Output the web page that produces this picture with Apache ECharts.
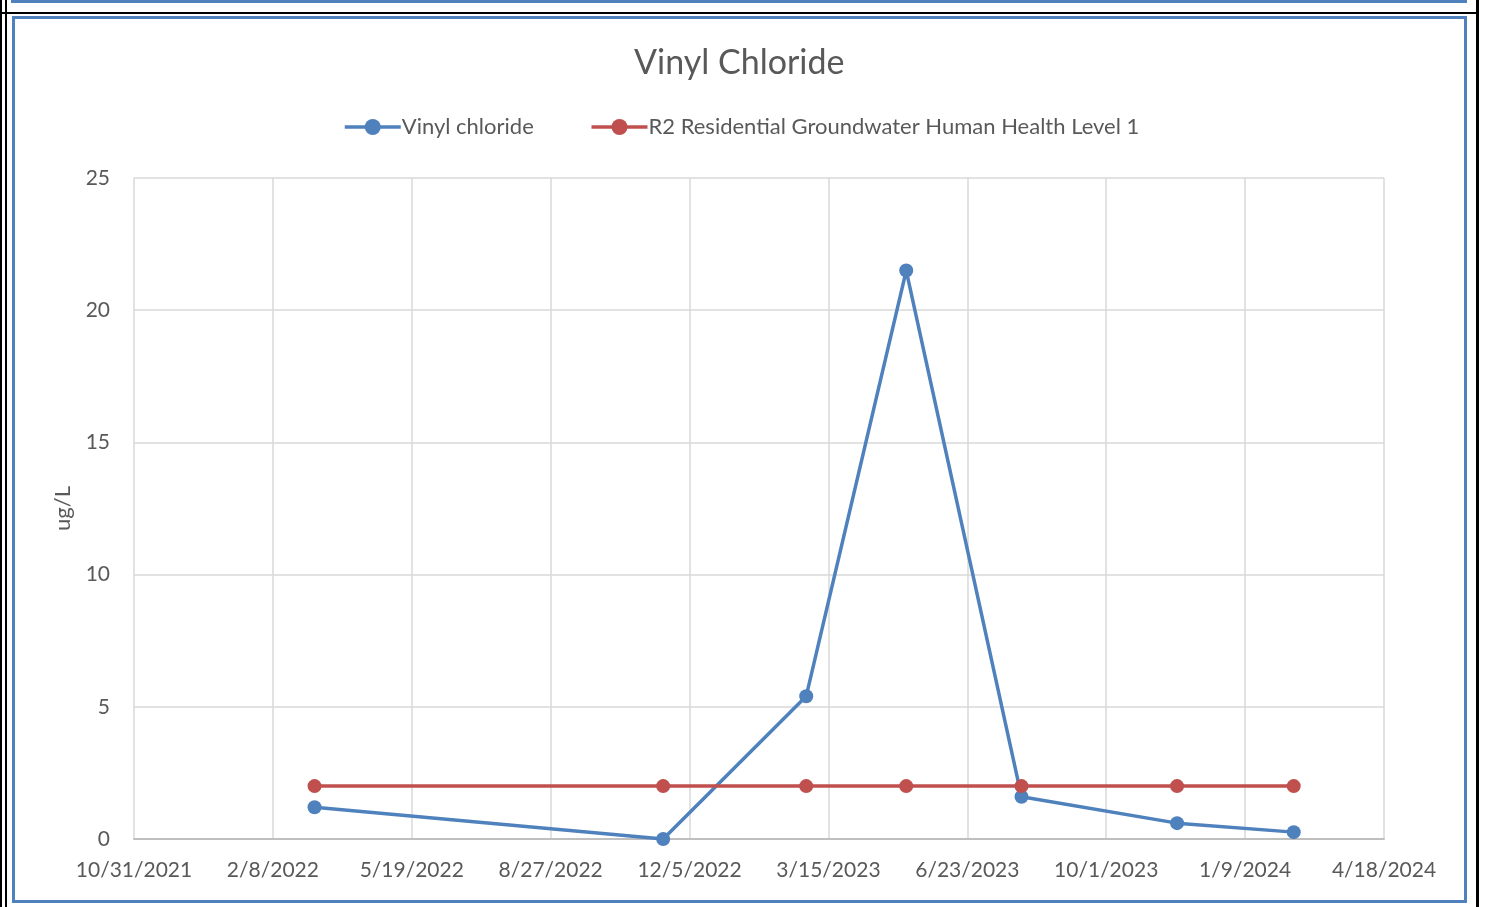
<!DOCTYPE html>
<html><head><meta charset="utf-8">
<script src="https://cdn.jsdelivr.net/npm/echarts@6/dist/echarts.min.js"></script>
<style>
html,body{margin:0;padding:0;background:#fff;width:1493px;height:907px;overflow:hidden;}
#chart{position:absolute;left:0;top:0;width:1493px;height:907px;}
.d{position:absolute;pointer-events:none;box-sizing:border-box;}
</style></head><body>
<div id="chart"></div>
<div class="d" style="left:11px;top:0;width:1456px;height:3px;background:#4F81BD"></div>
<div class="d" style="left:0;top:12px;width:1479px;height:2px;background:#000"></div>
<div class="d" style="left:0;top:0;width:2px;height:907px;background:#000"></div>
<div class="d" style="left:5px;top:0;width:2px;height:907px;background:#000"></div>
<div class="d" style="left:1476px;top:0;width:3px;height:907px;background:#000"></div>
<div class="d" style="left:12px;top:16px;width:1455px;height:887px;border:3px solid #4F81BD"></div>
<script>
// Sample dates (M/D/YYYY)
const sampleDates = ['3/10/2022','11/16/2022','2/27/2023','5/10/2023','8/1/2023','11/21/2023','2/13/2024'];
// Vinyl chloride (ug/L)
const vinylChloride = [1.2, 0, 5.4, 21.5, 1.6, 0.6, 0.26];
// R2 Residential Groundwater Human Health Level 1 (ug/L)
const r2Level = [2, 2, 2, 2, 2, 2, 2];
// Axis range as Excel serial dates: 10/31/2021 .. 4/18/2024, step 100 days
const xMin = 44500, xMax = 45400, xStep = 100;
const yTicks = [0, 5, 10, 15, 20, 25];

function toSerial(s){
  const [m,d,y] = s.split('/').map(Number);
  return Date.UTC(y, m-1, d)/86400000 + 25569;
}
function fromSerial(v){
  const dt = new Date((v - 25569)*86400000);
  return (dt.getUTCMonth()+1) + '/' + dt.getUTCDate() + '/' + dt.getUTCFullYear();
}
const xs = sampleDates.map(toSerial);
const vinylData = xs.map((x,i)=>[x, vinylChloride[i]]);
const r2Data = xs.map((x,i)=>[x, r2Level[i]]);

const font = 'Lato, "Noto Sans", sans-serif';
const chart = echarts.init(document.getElementById('chart'), null, {renderer:'canvas'});
chart.setOption({
  animation: false,
  backgroundColor: 'transparent',
  title: {
    text: 'Vinyl Chloride',
    left: 629, top: 41,
    textStyle: {fontFamily: font, fontSize: 34, fontWeight: 'normal', color: '#595959'}
  },
  legend: {
    top: 111, left: 338,
    itemWidth: 56, itemHeight: 20, itemGap: 56,
    lineStyle: {width: 3.5},
    textStyle: {fontFamily: font, fontSize: 22, color: '#595959', padding: [0,0,0,-4]},
    data: ['Vinyl chloride', 'R2 Residential Groundwater Human Health Level 1']
  },
  grid: {left: 134, right: 109, top: 178, bottom: 68, containLabel: false},
  xAxis: {
    type: 'value', min: xMin, max: xMax, interval: xStep,
    axisLine: {show: true, lineStyle: {color: '#bfbfbf', width: 2}},
    axisTick: {show: false},
    splitLine: {show: true, lineStyle: {color: '#d9d9d9', width: 1.5}},
    axisLabel: {fontFamily: font, fontSize: 21, color: '#595959', margin: 21,
      showMinLabel: true, showMaxLabel: true, formatter: v => fromSerial(v)}
  },
  yAxis: {
    type: 'value', min: yTicks[0], max: yTicks[yTicks.length-1], interval: 5,
    name: 'ug/L', nameLocation: 'middle', nameRotate: 90, nameGap: 60,
    nameTextStyle: {fontFamily: font, fontSize: 22, color: '#595959'},
    axisLine: {show: false}, axisTick: {show: false},
    splitLine: {show: true, lineStyle: {color: '#d9d9d9', width: 1.5}},
    axisLabel: {fontFamily: font, fontSize: 21, color: '#595959', margin: 24}
  },
  series: [
    {name: 'Vinyl chloride', type: 'line', data: vinylData,
     symbol: 'circle', symbolSize: 14, showAllSymbol: true,
     itemStyle: {color: '#4F81BD'}, lineStyle: {color: '#4F81BD', width: 3.5}},
    {name: 'R2 Residential Groundwater Human Health Level 1', type: 'line', data: r2Data,
     symbol: 'circle', symbolSize: 14, showAllSymbol: true,
     itemStyle: {color: '#C0504D'}, lineStyle: {color: '#C0504D', width: 3.5}}
  ]
});
</script>
</body></html>
